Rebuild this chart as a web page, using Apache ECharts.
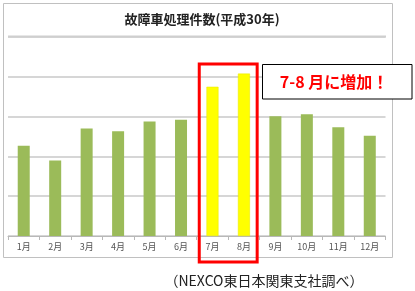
<!DOCTYPE html>
<html><head><meta charset="utf-8">
<script src="https://cdn.jsdelivr.net/npm/echarts@6/dist/echarts.min.js"></script>
<style>html,body{margin:0;padding:0;background:#fff}#c{width:415px;height:291px}</style>
</head><body><div id="c"></div>
<script>
const months = ['1月','2月','3月','4月','5月','6月','7月','8月','9月','10月','11月','12月'];
const values = [2.27, 1.90, 2.70, 2.63, 2.88, 2.92, 3.75, 4.08, 3.01, 3.06, 2.73, 2.52];
const highlighted = ['7月','8月'];
const titleText = '故障車処理件数(平成30年)';
const noteText = '（NEXCO東日本関東支社調べ）';
const calloutText = '7-8 月に増加！';

const FONT = '"Noto Sans CJK JP", sans-serif';
const chart = echarts.init(document.getElementById('c'), null, {renderer: 'canvas'});
const option = {
  animation: false,
  backgroundColor: '#fff',
  title: {
    text: titleText, left: 197, top: 8, textAlign: 'center',
    textStyle: {fontFamily: FONT, fontSize: 13, fontWeight: 'bold', color: '#222'}
  },
  grid: {left: 8, right: 29.5, top: 37, bottom: 55},
  xAxis: {
    type: 'category', data: months,
    axisLine: {lineStyle: {color: '#b8b8b8'}},
    axisTick: {show: true, length: 4, lineStyle: {color: '#b8b8b8'}},
    axisLabel: {fontFamily: FONT, fontSize: 9, color: '#555', margin: 6}
  },
  yAxis: {
    type: 'value', min: 0, max: 5, interval: 1,
    axisLabel: {show: false}, axisLine: {show: false}, axisTick: {show: false},
    splitLine: {lineStyle: {color: '#c8c8c8', width: 1.5}}
  },
  series: [{
    type: 'bar', barWidth: 12,
    data: values.map((v, i) => ({
      value: v,
      itemStyle: highlighted.includes(months[i])
        ? {color: '#FFFF00', borderColor: '#E6E600', borderWidth: 0.5}
        : {color: '#9BBB59'}
    }))
  }]
};
chart.setOption(option);

const p7 = chart.convertToPixel({xAxisIndex: 0}, '7月');
const p8 = chart.convertToPixel({xAxisIndex: 0}, '8月');
const half = (p8 - p7) / 2;
const rx1 = p7 - half + 2.5, rx2 = p8 + half - 2.5;
chart.setOption({
  graphic: [
    {type: 'rect', shape: {x: 3.5, y: 3.5, width: 389, height: 254}, style: {fill: null, stroke: '#c0c0c0', lineWidth: 1}, z: 0},
    {type: 'line', shape: {x1: 8, y1: 36.5, x2: 386, y2: 36.5}, style: {stroke: '#cfcfcf', lineWidth: 2}, z: 1},
    {type: 'rect', shape: {x: rx1, y: 64, width: rx2 - rx1, height: 198}, style: {fill: null, stroke: '#FF0000', lineWidth: 3}, z: 10},
    {type: 'rect', shape: {x: 262.5, y: 64.5, width: 149.5, height: 34.5}, style: {fill: '#fff', stroke: '#000', lineWidth: 1}, z: 10},
    {type: 'text', x: 334, y: 82, style: {text: calloutText, fill: '#FF0000', font: 'bold 16px ' + FONT, textAlign: 'center', textVerticalAlign: 'middle'}, z: 11},
    {type: 'text', x: 264, y: 281, style: {text: noteText, fill: '#222', font: '14px ' + FONT, textAlign: 'center', textVerticalAlign: 'middle'}, z: 11}
  ]
});
</script></body></html>
